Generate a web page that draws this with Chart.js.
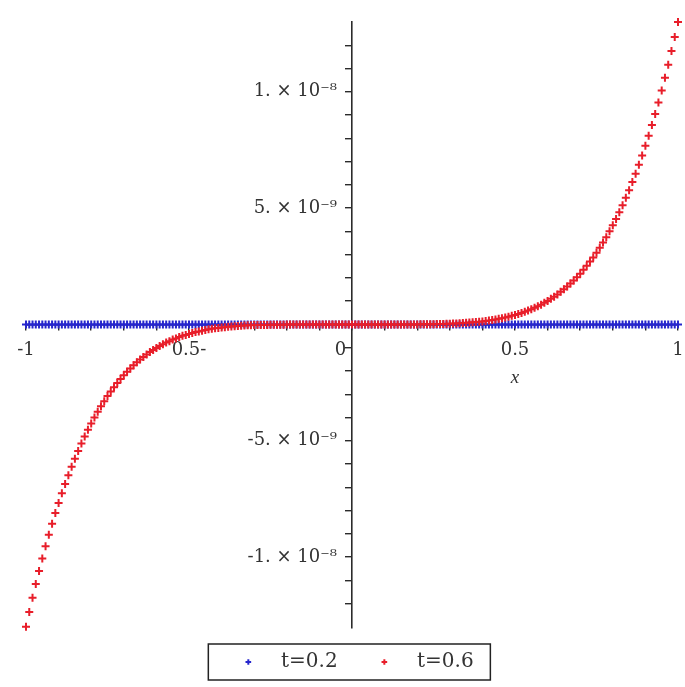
<!DOCTYPE html>
<html>
<head>
<meta charset="utf-8">
<script src="https://cdn.jsdelivr.net/npm/chart.js@4/dist/chart.umd.min.js"></script>
<style>
  html, body { margin: 0; padding: 0; background: #fff; }
  #wrap { width: 685px; height: 687px; }
</style>
</head>
<body>
<div id="wrap"><canvas id="plot" width="685" height="687"></canvas></div>
<script>
// sample points along x (step 0.01)
const xs = [
  -1.00, -0.99, -0.98, -0.97, -0.96, -0.95, -0.94, -0.93, -0.92, -0.91,
  -0.90, -0.89, -0.88, -0.87, -0.86, -0.85, -0.84, -0.83, -0.82, -0.81,
  -0.80, -0.79, -0.78, -0.77, -0.76, -0.75, -0.74, -0.73, -0.72, -0.71,
  -0.70, -0.69, -0.68, -0.67, -0.66, -0.65, -0.64, -0.63, -0.62, -0.61,
  -0.60, -0.59, -0.58, -0.57, -0.56, -0.55, -0.54, -0.53, -0.52, -0.51,
  -0.50, -0.49, -0.48, -0.47, -0.46, -0.45, -0.44, -0.43, -0.42, -0.41,
  -0.40, -0.39, -0.38, -0.37, -0.36, -0.35, -0.34, -0.33, -0.32, -0.31,
  -0.30, -0.29, -0.28, -0.27, -0.26, -0.25, -0.24, -0.23, -0.22, -0.21,
  -0.20, -0.19, -0.18, -0.17, -0.16, -0.15, -0.14, -0.13, -0.12, -0.11,
  -0.10, -0.09, -0.08, -0.07, -0.06, -0.05, -0.04, -0.03, -0.02, -0.01,
  0.00,
  0.01, 0.02, 0.03, 0.04, 0.05, 0.06, 0.07, 0.08, 0.09, 0.10,
  0.11, 0.12, 0.13, 0.14, 0.15, 0.16, 0.17, 0.18, 0.19, 0.20,
  0.21, 0.22, 0.23, 0.24, 0.25, 0.26, 0.27, 0.28, 0.29, 0.30,
  0.31, 0.32, 0.33, 0.34, 0.35, 0.36, 0.37, 0.38, 0.39, 0.40,
  0.41, 0.42, 0.43, 0.44, 0.45, 0.46, 0.47, 0.48, 0.49, 0.50,
  0.51, 0.52, 0.53, 0.54, 0.55, 0.56, 0.57, 0.58, 0.59, 0.60,
  0.61, 0.62, 0.63, 0.64, 0.65, 0.66, 0.67, 0.68, 0.69, 0.70,
  0.71, 0.72, 0.73, 0.74, 0.75, 0.76, 0.77, 0.78, 0.79, 0.80,
  0.81, 0.82, 0.83, 0.84, 0.85, 0.86, 0.87, 0.88, 0.89, 0.90,
  0.91, 0.92, 0.93, 0.94, 0.95, 0.96, 0.97, 0.98, 0.99, 1.00
];

// values in units of 1e-9
const t02 = [
  0, 0, 0, 0, 0, 0, 0, 0, 0, 0, 0, 0, 0, 0, 0, 0, 0, 0, 0, 0,
  0, 0, 0, 0, 0, 0, 0, 0, 0, 0, 0, 0, 0, 0, 0, 0, 0, 0, 0, 0,
  0, 0, 0, 0, 0, 0, 0, 0, 0, 0, 0, 0, 0, 0, 0, 0, 0, 0, 0, 0,
  0, 0, 0, 0, 0, 0, 0, 0, 0, 0, 0, 0, 0, 0, 0, 0, 0, 0, 0, 0,
  0, 0, 0, 0, 0, 0, 0, 0, 0, 0, 0, 0, 0, 0, 0, 0, 0, 0, 0, 0,
  0,
  0, 0, 0, 0, 0, 0, 0, 0, 0, 0, 0, 0, 0, 0, 0, 0, 0, 0, 0, 0,
  0, 0, 0, 0, 0, 0, 0, 0, 0, 0, 0, 0, 0, 0, 0, 0, 0, 0, 0, 0,
  0, 0, 0, 0, 0, 0, 0, 0, 0, 0, 0, 0, 0, 0, 0, 0, 0, 0, 0, 0,
  0, 0, 0, 0, 0, 0, 0, 0, 0, 0, 0, 0, 0, 0, 0, 0, 0, 0, 0, 0,
  0, 0, 0, 0, 0, 0, 0, 0, 0, 0, 0, 0, 0, 0, 0, 0, 0, 0, 0, 0
];

const t06 = [
  -13.00, -12.36, -11.75, -11.16, -10.60, -10.06, -9.54, -9.04, -8.57, -8.11,
  -7.68, -7.26, -6.86, -6.48, -6.12, -5.77, -5.44, -5.12, -4.82, -4.53,
  -4.26, -4.00, -3.75, -3.52, -3.30, -3.08, -2.88, -2.70, -2.52, -2.35,
  -2.18, -2.03, -1.89, -1.76, -1.63, -1.51, -1.40, -1.29, -1.19, -1.10,
  -1.01, -0.93, -0.85, -0.78, -0.72, -0.65, -0.60, -0.54, -0.49, -0.45,
  -0.41, -0.37, -0.33, -0.30, -0.27, -0.24, -0.21, -0.19, -0.17, -0.15,
  -0.13, -0.12, -0.10, -0.09, -0.08, -0.07, -0.06, -0.05, -0.04, -0.04,
  -0.03, -0.03, -0.02, -0.02, -0.02, -0.01, -0.01, -0.01, -0.01, -0.01,
  0, 0, 0, 0, 0, 0, 0, 0, 0, 0,
  0, 0, 0, 0, 0, 0, 0, 0, 0, 0,
  0,
  0, 0, 0, 0, 0, 0, 0, 0, 0, 0,
  0, 0, 0, 0, 0, 0, 0, 0, 0, 0,
  0.01, 0.01, 0.01, 0.01, 0.01, 0.02, 0.02, 0.02, 0.03, 0.03,
  0.04, 0.04, 0.05, 0.06, 0.07, 0.08, 0.09, 0.10, 0.12, 0.13,
  0.15, 0.17, 0.19, 0.21, 0.24, 0.27, 0.30, 0.33, 0.37, 0.41,
  0.45, 0.49, 0.54, 0.60, 0.65, 0.72, 0.78, 0.85, 0.93, 1.01,
  1.10, 1.19, 1.29, 1.40, 1.51, 1.63, 1.76, 1.89, 2.03, 2.18,
  2.35, 2.52, 2.70, 2.88, 3.08, 3.30, 3.52, 3.75, 4.00, 4.26,
  4.53, 4.82, 5.12, 5.44, 5.77, 6.12, 6.48, 6.86, 7.26, 7.68,
  8.11, 8.57, 9.04, 9.54, 10.06, 10.60, 11.16, 11.75, 12.36, 13.00
];

const seriesNames = ['t=0.2', 't=0.6'];
const xTickLabels = { '-10': '-1', '-5': '0.5-', '0': '0    ', '5': '0.5', '10': '1' };
const yTickLabels = { '10': '1. × 10⁻⁸', '5': '5. × 10⁻⁹', '-5': '-5. × 10⁻⁹', '-10': '-1. × 10⁻⁸' };

const axisColor = '#2b2b2b';
const textColor = '#333';
const serif = '"DejaVu Serif", "Liberation Serif", serif';

const toPoints = ys => xs.map((x, i) => ({ x: x, y: ys[i] }));

// legend frame + italic x label; nudge legend to sit where the original does
const extras = {
  id: 'extras',
  afterLayout(chart) {
    if (chart.legend) { chart.legend.left += 4; chart.legend.right += 4; }
  },
  afterDraw(chart) {
    const ctx = chart.ctx;
    const xs_ = chart.scales.x, ys_ = chart.scales.y;
    ctx.save();
    ctx.fillStyle = textColor;
    ctx.font = 'italic 19px "Liberation Serif", serif';
    ctx.textAlign = 'center';
    ctx.textBaseline = 'middle';
    ctx.fillText('x', xs_.getPixelForValue(0.5), ys_.getPixelForValue(0) + 54);

    const hb = chart.legend.legendHitBoxes;
    if (hb && hb.length) {
      const cy = hb[0].top + hb[0].height / 2;
      const l = hb[0].left + 10 - 40;
      const r = hb[hb.length - 1].left + 10 + 106;
      ctx.strokeStyle = '#222';
      ctx.lineWidth = 1.5;
      ctx.strokeRect(l, cy - 18, r - l, 36);
    }
    ctx.restore();
  }
};

new Chart(document.getElementById('plot'), {
  type: 'line',
  data: {
    datasets: [
      { label: seriesNames[1], data: toPoints(t06), showLine: false, pointStyle: 'cross',
        pointRadius: 4, pointBorderWidth: 2, borderColor: 'rgb(232,30,42)', pointBorderColor: 'rgb(232,30,42)',
        backgroundColor: 'rgb(232,30,42)', clip: false },
      { label: seriesNames[0], data: toPoints(t02), showLine: false, pointStyle: 'cross',
        pointRadius: 4, pointBorderWidth: 2, borderColor: 'rgb(38,38,205)', pointBorderColor: 'rgb(38,38,205)',
        backgroundColor: 'rgb(38,38,205)', clip: false }
    ]
  },
  options: {
    responsive: false,
    animation: false,
    layout: { padding: { left: 26, right: 7, top: 22, bottom: 5 } },
    plugins: {
      tooltip: { enabled: false },
      legend: {
        position: 'bottom',
        reverse: true,
        labels: {
          usePointStyle: true,
          boxHeight: 4,
          padding: 24,
          color: textColor,
          font: { family: serif, size: 20 },
          generateLabels(chart) {
            const items = Chart.defaults.plugins.legend.labels.generateLabels(chart);
            items.forEach(it => {
              it.text = '  ' + it.text + (it.datasetIndex === 1 ? '  ' : '');
            });
            return items;
          }
        }
      }
    },
    scales: {
      x: {
        type: 'linear',
        min: -1, max: 1,
        position: { y: 0 },
        border: { color: axisColor, width: 1.6 },
        grid: { drawOnChartArea: false, drawTicks: true, tickLength: 5, color: axisColor, lineWidth: 1.4 },
        ticks: {
          stepSize: 0.1, autoSkip: false, maxRotation: 0, padding: 1,
          color: textColor, font: { family: serif, size: 18, lineHeight: 2.2 },
          callback: v => xTickLabels[String(Math.round(v * 10))] || ''
        }
      },
      y: {
        type: 'linear',
        min: -13.05, max: 13.0,
        position: { x: 0 },
        border: { color: axisColor, width: 1.6 },
        grid: {
          drawOnChartArea: false, drawTicks: true, tickLength: 6, lineWidth: 1.4,
          color: c => (Math.abs(c.tick.value) > 12.5 ? 'rgba(0,0,0,0)' : axisColor)
        },
        ticks: {
          stepSize: 1, autoSkip: false, padding: 6,
          color: textColor, font: { family: serif, size: 18 },
          callback: v => {
            const s = yTickLabels[String(Math.round(v))];
            return s ? s + '  \u2009' : '';
          }
        }
      }
    }
  },
  plugins: [extras]
});
</script>
</body>
</html>
